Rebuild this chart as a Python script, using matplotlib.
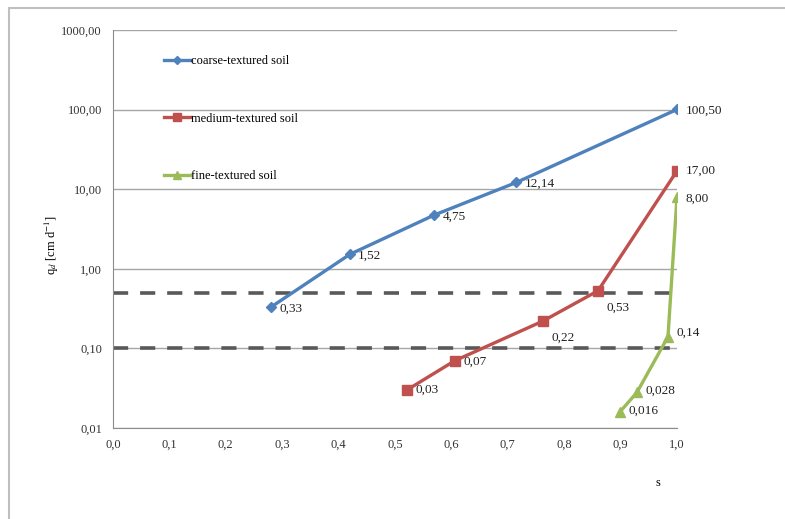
import matplotlib.pyplot as plt
import matplotlib.patches as patches
from matplotlib.ticker import FixedLocator, NullLocator

plt.rcParams['font.family'] = ['Liberation Serif', 'DejaVu Serif']
plt.rcParams['mathtext.fontset'] = 'stix'

# data
coarse_s = [0.28, 0.42, 0.57, 0.715, 1.0]
coarse_q = [0.33, 1.52, 4.75, 12.14, 100.50]
medium_s = [0.521, 0.606, 0.762, 0.86, 1.0]
medium_q = [0.03, 0.07, 0.22, 0.53, 17.00]
fine_s = [0.899, 0.929, 0.984, 1.0]
fine_q = [0.016, 0.028, 0.14, 8.00]
fine_labels = ['0,016', '0,028', '0,14', '8,00']
thresholds = [0.5, 0.1]

y_ticks = [0.01, 0.1, 1, 10, 100, 1000]
x_ticks = [0.0, 0.1, 0.2, 0.3, 0.4, 0.5, 0.6, 0.7, 0.8, 0.9, 1.0]

fig = plt.figure(figsize=(7.85, 5.19), dpi=100)
fig.patches.append(patches.Rectangle((9 / 785, -0.01), 1.0, 1 - 8 / 519 + 0.01,
                                     transform=fig.transFigure, fill=False,
                                     edgecolor='#bfbfbf', linewidth=1.5))
ax = fig.add_axes([113 / 785, 1 - 428 / 519, (677 - 113) / 785, (428 - 30) / 519])

ax.set_yscale('log')
ax.set_ylim(0.01, 1000)
ax.set_xlim(0, 1)

ax.yaxis.set_major_locator(FixedLocator(y_ticks))
ax.yaxis.set_minor_locator(NullLocator())
ax.set_yticklabels([f'{v:.2f}'.replace('.', ',') for v in y_ticks])
ax.set_xticks(x_ticks)
ax.set_xticklabels([f'{v:.1f}'.replace('.', ',') for v in x_ticks])
ax.tick_params(length=0, labelsize=9, pad=8, colors='#333333')
ax.grid(axis='y', color='#a6a6a6', linewidth=1)
for side in ['top', 'right']:
    ax.spines[side].set_visible(False)
for side in ['left', 'bottom']:
    ax.spines[side].set_color('#8c8c8c')

for t in thresholds:
    ax.axhline(t, color='#595959', linewidth=2.6, dashes=(4.2, 3.3), zorder=2)

l1, = ax.plot(coarse_s, coarse_q, color='#4f81bd', linewidth=2.4, marker='D',
              markersize=5, label='coarse-textured soil', zorder=3)
l2, = ax.plot(medium_s, medium_q, color='#c0504d', linewidth=2.4, marker='s',
              markersize=7, label='medium-textured soil', zorder=3)
l3, = ax.plot(fine_s, fine_q, color='#9bbb59', linewidth=2.4, marker='^',
              markersize=7, label='fine-textured soil', zorder=3)

lab_kw = dict(fontsize=9.5, textcoords='offset points', va='center', color='#222222')
for s, q in zip(coarse_s, coarse_q):
    ax.annotate(f'{q:.2f}'.replace('.', ','), (s, q), xytext=(6, -1), **lab_kw)
med_off = [(6, 0), (6, -1), (6, -12), (6, -12), (6, 0)]
for (s, q), off in zip(zip(medium_s, medium_q), med_off):
    ax.annotate(f'{q:.2f}'.replace('.', ','), (s, q), xytext=off, **lab_kw)
fine_off = [(6, 1), (6, 1), (6, 3), (6, -1)]
for (s, q), lab, off in zip(zip(fine_s, fine_q), fine_labels, fine_off):
    ax.annotate(lab, (s, q), xytext=off, **lab_kw)

leg = ax.legend(handles=[l1, l2, l3], loc='upper left', bbox_to_anchor=(0.07, 0.965),
                frameon=False, fontsize=9, labelspacing=3.65, handlelength=2.2,
                handletextpad=0.0, markerscale=0.8)

fig.text(52 / 785, 1 - 245 / 519, 'q$_d$ [cm d$^{-1}$]', fontsize=9, rotation=90,
         ha='center', va='center')
fig.text(658 / 785, 1 - 483 / 519, 's', fontsize=9, ha='center', va='center')

fig.savefig('out.png', dpi=100)
